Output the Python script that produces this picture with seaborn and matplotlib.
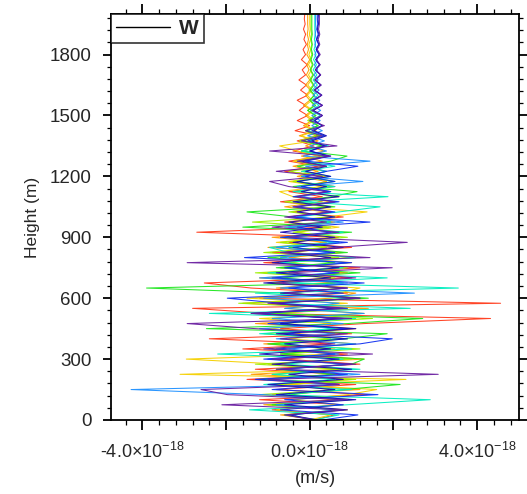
import numpy as np
import pandas as pd
import matplotlib
matplotlib.use("Agg")
import matplotlib.pyplot as plt
import seaborn as sns
from matplotlib.ticker import MultipleLocator, FixedLocator, FuncFormatter
from matplotlib.lines import Line2D

sns.set_style("ticks")
plt.rcParams['font.family'] = ['Liberation Sans', 'DejaVu Sans']
plt.rcParams['mathtext.fontset'] = 'custom'
plt.rcParams['mathtext.rm'] = 'Liberation Sans'
plt.rcParams['mathtext.it'] = 'Liberation Sans'

SCALE = 1e-18
heights = list(range(0, 2001, 25))  # m

red = [0.1, 0.6, -0.9, 0.8, -1.2, 1.37, -0.8, 1.1, -1.5, 0.7,
       -1.3, 1.2, -0.6, 0.9, -1.6, 0.5, -2.4, 1.0, -0.7, 1.3,
       4.32, -1.0, -2.8, 4.56, -1.2, 0.9, -1.4, -2.52, 1.0, -0.8,
       1.2, -1.1, 0.6, -0.9, 1.0, -0.5, 0.7, -2.7, 0.4, -0.6,
       0.8, -0.4, 0.5, -0.7, 0.3, -0.5, 0.6, -0.3, 0.4, -0.6,
       0.2, -0.5, 0.3, -0.4, 0.1, -0.3, 0.2, -0.35, 0.0, -0.3,
       -0.05, -0.25, -0.1, -0.3, -0.05, -0.22, -0.08, -0.26, -0.1, -0.18,
       -0.06, -0.2, -0.1, -0.16, -0.08, -0.14, -0.1, -0.15, -0.11, -0.13,
       -0.12]
orange = [0.2, -0.7, 0.9, -1.1, 0.6, -0.9, 1.2, -0.5, 1.0, -1.4,
          0.8, -1.0, 1.3, -0.7, 0.6, -1.1, 0.9, -0.4, 1.1, -1.3,
          0.7, -0.9, 1.4, -1.6, 0.5, 1.1, -0.8, 0.6, -1.2, 0.9,
          -0.7, 1.0, -0.5, 0.8, -1.0, 0.4, -0.9, 0.7, -0.4, 0.6,
          -0.5, 0.4, -0.6, 0.3, -0.4, 0.5, -0.2, 0.4, -0.3, 0.2,
          -0.4, 0.3, -0.2, 0.35, -0.1, 0.2, -0.25, 0.1, -0.15, 0.05,
          -0.1, 0.05, -0.15, 0.0, -0.1, 0.02, -0.1, 0.0, -0.08, -0.02,
          -0.07, 0.0, -0.07, -0.03, -0.06, -0.03, -0.06, -0.04, -0.05, -0.05,
          -0.05]
yellow = [0.0, 0.5, -0.8, 0.7, -0.4, 0.9, 1.6, -0.6, 2.3, -3.1,
          0.9, -0.7, -2.95, 0.6, -0.9, 1.1, -0.5, 0.8, -1.0, 0.5,
          -1.2, 1.3, -0.6, 0.9, -1.5, 0.7, 1.2, -0.9, 0.5, -1.1,
          0.8, -0.6, 1.0, -0.4, 0.6, -0.8, 0.5, -0.3, 0.7, -0.5,
          0.4, 1.37, -0.3, 0.5, -0.4, -0.72, 0.3, -0.5, 0.4, -0.2,
          0.3, -0.4, 0.2, -0.3, -0.72, 0.1, -0.2, 0.15, -0.1, 0.1,
          -0.05, 0.08, -0.1, 0.05, -0.06, 0.06, -0.05, 0.04, -0.03, 0.04,
          -0.03, 0.03, -0.02, 0.02, -0.02, 0.02, -0.01, 0.01, 0.0, 0.0,
          0.0]
lightgreen = [0.1, -0.5, 0.8, -1.0, 0.9, -1.2, 0.6, -0.8, 1.1, -0.9,
              0.7, -1.3, 1.0, -0.6, 1.2, -0.9, 0.5, -1.1, 0.8, -0.7,
              1.5, -0.8, 0.9, -1.7, 1.1, -0.6, 0.8, -1.0, 0.6, -1.3,
              0.9, -0.5, 0.7, -1.1, 0.4, -0.7, 0.9, -0.4, 0.5, -1.37,
              0.6, -0.5, 0.4, -0.6, 0.7, -0.3, 0.5, -0.4, 0.3, -0.5,
              0.4, -0.3, 0.35, -0.2, 0.3, -0.25, 0.15, -0.1, 0.2, -0.05,
              0.12, -0.05, 0.1, 0.0, 0.1, -0.02, 0.08, 0.0, 0.07, 0.01,
              0.06, 0.01, 0.05, 0.02, 0.05, 0.02, 0.04, 0.03, 0.03, 0.03,
              0.03]
green = [0.2, -0.6, 0.7, -0.9, 1.0, -0.5, 0.8, 2.16, -1.2, 0.6,
         -0.8, 1.0, 1.3, -0.7, 0.5, -1.0, 0.8, 1.85, -2.47, 0.9,
         2.7, -1.1, 0.7, -0.9, 1.4, -0.6, -3.9, 0.8, -0.7, 1.2,
         -0.8, 0.6, -1.0, 0.9, -0.5, 0.7, -0.6, 1.0, -1.6, 0.5,
         -0.4, -1.5, 0.6, -0.3, 0.5, 1.13, -0.4, 0.6, -0.2, 0.4,
         -0.3, 0.5, 0.89, -0.2, 0.3, -0.15, 0.25, -0.1, 0.2, 0.0,
         0.15, -0.05, 0.14, 0.0, 0.12, 0.01, 0.1, 0.02, 0.09, 0.02,
         0.08, 0.03, 0.07, 0.04, 0.06, 0.04, 0.06, 0.05, 0.05, 0.05,
         0.05]
cyan = [0.1, 0.7, -1.44, 0.9, 2.88, -0.8, 1.0, -1.1, 0.6, -0.9,
        1.2, -0.6, 0.8, -2.2, 1.0, -0.7, 0.9, -1.2, 0.6, -0.8,
        1.1, -2.4, 2.4, -0.9, 1.0, -1.3, 3.55, -0.6, 1.85, -1.0,
        0.8, -0.7, 1.1, -0.5, -0.96, 0.6, -0.4, 0.8, -0.6, 0.5,
        -0.3, 0.7, 1.68, -0.2, 1.87, -0.4, 0.6, -0.3, 0.5, -0.2,
        0.6, -0.1, 0.4, -0.2, 0.45, 0.0, 0.35, -0.05, 0.3, 0.05,
        0.25, 0.02, 0.22, 0.05, 0.2, 0.06, 0.18, 0.08, 0.17, 0.08,
        0.16, 0.09, 0.15, 0.1, 0.14, 0.11, 0.13, 0.12, 0.12, 0.12,
        0.12]
lightblue = [0.0, -0.4, 0.6, -0.8, 0.9, -1.1, -4.27, 0.7, -0.9, 1.2,
             -0.6, 0.9, -1.0, 0.7, -0.5, 1.1, -0.8, 0.6, -1.2, 0.8,
             -0.9, 1.3, -0.6, 0.7, -1.1, 2.5, -0.7, 0.9, -1.2, 0.6,
             -0.5, 0.9, -0.7, 0.5, -0.8, 0.7, -0.4, 0.6, -0.5, 0.8,
             -0.3, 0.5, -0.4, 0.6, -0.2, 0.5, -0.3, 1.27, -0.2, 0.4,
             -0.1, 1.44, -0.15, 0.4, 0.0, 0.35, -0.05, 0.3, 0.05, 0.25,
             0.05, 0.26, 0.06, 0.24, 0.08, 0.22, 0.09, 0.2, 0.1, 0.19,
             0.11, 0.18, 0.12, 0.17, 0.12, 0.16, 0.13, 0.15, 0.14, 0.14,
             0.14]
blue = [0.3, 1.15, -0.7, 0.8, -0.6, 1.63, -0.9, 0.7, -1.3, 0.9,
        -0.7, 1.0, -1.1, 0.6, -0.8, 1.2, 1.97, -0.6, 0.9, -1.0,
        0.6, -1.2, 0.9, -0.7, -1.97, 0.8, -0.5, 1.3, -0.9, 0.7,
        -0.6, 1.0, -1.56, 0.6, -0.4, 0.9, -0.7, 0.5, -0.3, 1.44,
        -0.5, 0.6, -0.3, 0.7, -0.4, 0.5, -0.2, 0.6, -0.1, 0.4,
        1.15, -0.1, 0.5, 0.0, 0.4, -0.05, 0.35, 0.05, 0.3, 0.1,
        0.3, 0.08, 0.3, 0.1, 0.28, 0.11, 0.26, 0.12, 0.25, 0.13,
        0.23, 0.14, 0.22, 0.15, 0.21, 0.16, 0.2, 0.17, 0.19, 0.18,
        0.18]
darkblue = [0.2, -0.5, 0.9, -0.6, 1.1, -0.8, 0.6, -1.0, 0.8, -0.5,
            1.0, -0.9, 0.7, -1.2, 0.5, -0.6, 0.9, -0.8, 1.1, -0.7,
            0.8, -1.4, 0.6, -0.9, 1.2, -0.7, 0.9, -1.1, 0.5, -0.8,
            0.7, -0.9, 0.5, -0.6, 0.8, -0.4, 0.6, -0.7, 0.3, -0.5,
            0.6, -0.3, 0.5, -0.4, 0.7, -0.2, 0.4, -0.3, 0.5, -0.1,
            0.4, -0.2, 0.45, 0.0, 0.35, 0.05, 0.4, 0.1, 0.3, 0.12,
            0.3, 0.08, 0.3, 0.1, 0.29, 0.12, 0.27, 0.13, 0.26, 0.14,
            0.24, 0.15, 0.23, 0.16, 0.22, 0.17, 0.22, 0.18, 0.21, 0.2,
            0.21]
purple = [0.1, -0.6, 0.8, -2.1, 0.9, -1.97, -2.6, 0.7, -1.0, 3.07,
          -0.8, 1.1, -0.9, 1.5, -1.1, 0.6, -0.7, 0.9, -1.3, -2.93,
          1.0, -1.4, 0.8, -1.0, 1.2, -0.6, 0.9, -0.8, 1.1, -0.5,
          1.97, -2.93, 1.44, -0.7, 0.6, 2.33, -0.5, 0.7, -0.9, 0.4,
          -0.6, 0.5, -0.4, 0.6, -0.3, 0.4, -0.5, -0.96, 0.3, -0.8,
          0.4, -0.3, 0.5, -0.96, 0.65, -0.2, 0.3, -0.1, 0.35, 0.0,
          0.3, 0.05, 0.3, 0.08, 0.28, 0.1, 0.27, 0.12, 0.26, 0.14,
          0.25, 0.16, 0.25, 0.18, 0.24, 0.2, 0.24, 0.21, 0.23, 0.23,
          0.23]

series_names = ["red", "orange", "yellow", "lightgreen", "green",
                "cyan", "lightblue", "blue", "darkblue", "purple"]
series_values = [red, orange, yellow, lightgreen, green,
                 cyan, lightblue, blue, darkblue, purple]
series_colors = ["#FF3A1A", "#FF9A00", "#F5D000", "#9BF000", "#1EE61E",
                 "#00EEC0", "#1E90FF", "#1030F0", "#1A0AB4", "#6A1FA0"]

x_ticks_major = [-4, -2, 0, 2, 4]
x_tick_labels = {-4: "-4.0\u00d710$^{\\mathregular{-18}}$",
                 0: "0.0\u00d710$^{\\mathregular{-18}}$",
                 4: "4.0\u00d710$^{\\mathregular{-18}}$"}

rows = []
for name, vals in zip(series_names, series_values):
    for h, v in zip(heights, vals):
        rows.append({"run": name, "height": h, "w": v * SCALE})
df = pd.DataFrame(rows)

fig = plt.figure(figsize=(5.27, 4.94), dpi=100)
ax = fig.add_axes([0.2106, 0.1498, 0.7742, 0.8219])

sns.lineplot(data=df, x="w", y="height", hue="run", hue_order=series_names,
             palette=dict(zip(series_names, series_colors)), sort=False,
             estimator=None, orient="y", legend=False, linewidth=0.75,
             alpha=0.95, ax=ax)

ax.set_xlim(-4.75e-18, 5.0e-18)
ax.set_ylim(0, 2000)

ax.xaxis.set_major_locator(FixedLocator([t * SCALE for t in x_ticks_major]))
ax.xaxis.set_minor_locator(MultipleLocator(0.4e-18))
ax.xaxis.set_major_formatter(FuncFormatter(
    lambda v, p: x_tick_labels.get(int(round(v / SCALE)), "")))
ax.yaxis.set_major_locator(MultipleLocator(300))
ax.yaxis.set_minor_locator(MultipleLocator(60))

for s in ax.spines.values():
    s.set_linewidth(1.3)
    s.set_color("black")

ax.tick_params(axis="x", which="major", direction="out", length=7.5, width=1.3,
               labelsize=13, pad=8, top=True, bottom=True, color="black")
ax.tick_params(axis="x", which="minor", direction="out", length=3.5, width=0.9,
               top=True, bottom=True, color="black")
ax.tick_params(axis="y", which="major", direction="out", length=6, width=1.3,
               labelsize=13.5, pad=8, left=True, right=True, color="black")
ax.tick_params(axis="y", which="minor", direction="out", length=3, width=0.9,
               left=True, right=True, color="black")

ax.set_xlabel("(m/s)", fontsize=13, labelpad=6)
ax.set_ylabel("Height (m)", fontsize=12.5, labelpad=7)

handle = Line2D([0], [0], color="black", linewidth=1.0)
leg = ax.legend([handle], ["W"], loc="upper left", borderaxespad=0,
                frameon=True, fancybox=False, handlelength=2.6,
                handletextpad=0.4, borderpad=0.25,
                prop={"weight": "bold", "size": 15})
leg.get_frame().set_edgecolor("black")
leg.get_frame().set_linewidth(1.2)

fig.savefig("out.png", dpi=100)
